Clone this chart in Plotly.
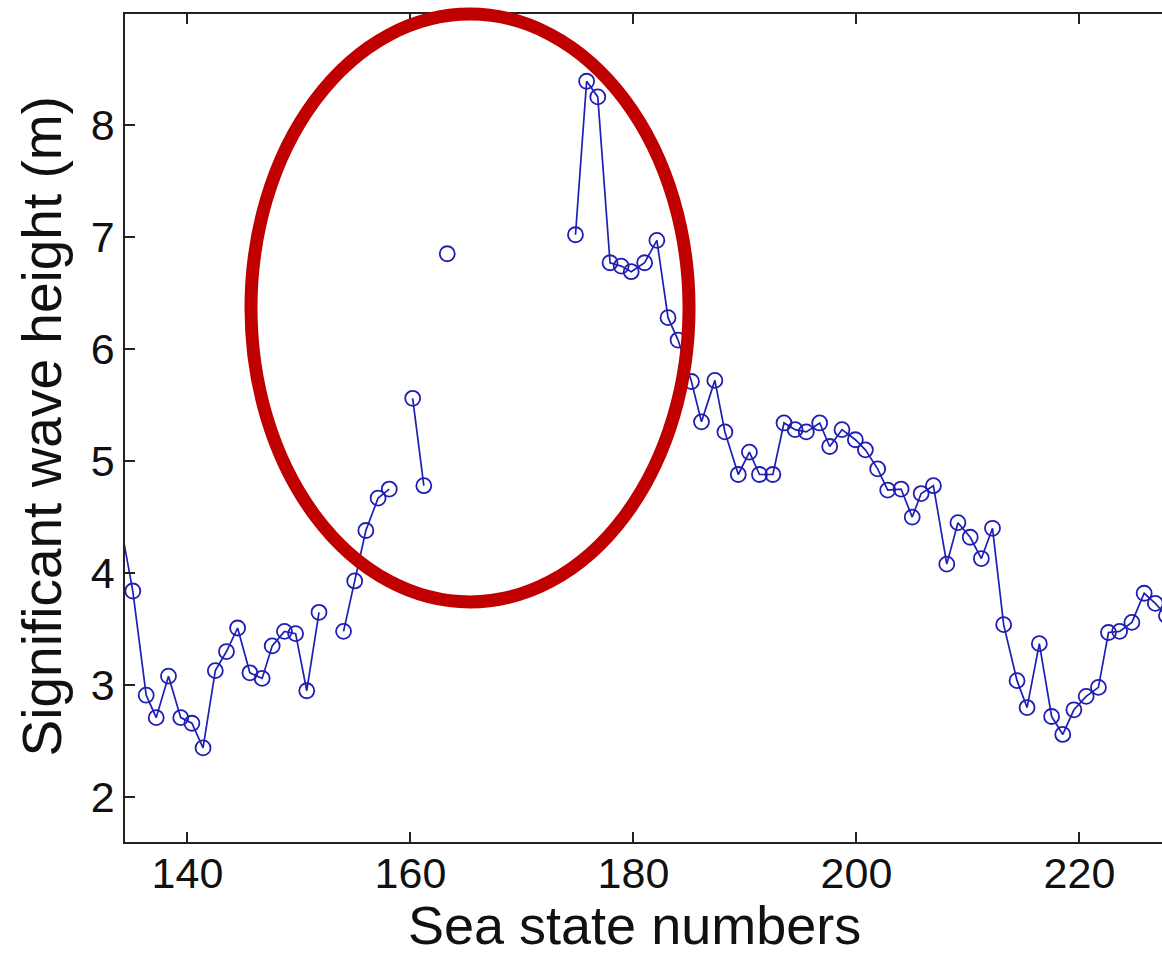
import plotly.graph_objects as go

# Sea state positions and significant wave heights
sea_state = [133.5, 135.1, 136.3, 137.2, 138.3, 139.4, 140.4, 141.4, 142.5, 143.5,
             144.5, 145.6, 146.7, 147.6, 148.7, 149.7, 150.7, 151.8, 152.9, 154.0,
             155.0, 156.0, 157.1, 158.1, 159.1, 160.2, 161.2, 162.2, 163.3, 169.0,
             174.8, 175.8, 176.8, 177.9, 178.9, 179.8, 181.0, 182.1, 183.1, 184.0,
             185.2, 186.1, 187.3, 188.2, 189.4, 190.4, 191.3, 192.5, 193.5, 194.5,
             195.5, 196.7, 197.6, 198.7, 199.9, 200.8, 201.9, 202.8, 204.0, 205.0,
             205.8, 206.9, 208.1, 209.1, 210.2, 211.2, 212.2, 213.2, 214.4, 215.3,
             216.4, 217.5, 218.5, 219.5, 220.6, 221.7, 222.6, 223.6, 224.7, 225.8,
             226.8, 227.8]
wave_height = [4.71, 3.84, 2.91, 2.71, 3.08, 2.71, 2.66, 2.44, 3.13, 3.30,
               3.51, 3.11, 3.06, 3.35, 3.48, 3.46, 2.95, 3.65, None, 3.48,
               3.93, 4.38, 4.67, 4.75, None, 5.56, 4.78, None, 6.85, None,
               7.02, 8.39, 8.25, 6.77, 6.74, 6.69, 6.77, 6.97, 6.28, 6.08,
               5.71, 5.35, 5.72, 5.26, 4.88, 5.08, 4.88, 4.88, 5.34, 5.28,
               5.26, 5.34, 5.13, 5.28, 5.19, 5.10, 4.93, 4.74, 4.75, 4.50,
               4.71, 4.78, 4.08, 4.45, 4.32, 4.13, 4.40, 3.54, 3.04, 2.80,
               3.37, 2.72, 2.56, 2.78, 2.90, 2.98, 3.47, 3.48, 3.56, 3.82,
               3.73, 3.62]

x_ticks = [140, 160, 180, 200, 220]
y_ticks = [2, 3, 4, 5, 6, 7, 8]
x_title = "Sea state numbers"
y_title = "Significant wave height (m)"

FONT = "Arial, 'Liberation Sans', Helvetica, sans-serif"
BLUE = "#1E1EB4"

fig = go.Figure()
fig.add_trace(go.Scatter(
    x=sea_state, y=wave_height, mode="lines+markers", connectgaps=False,
    line=dict(color=BLUE, width=1.7),
    marker=dict(symbol="circle-open", size=15, color=BLUE, line=dict(width=1.8, color=BLUE)),
    showlegend=False,
))

axis_common = dict(
    showgrid=False, zeroline=False, ticks="inside", ticklen=10, tickwidth=1.5,
    tickcolor="#222", showline=True, linecolor="#222", linewidth=1.5,
    tickfont=dict(family=FONT, size=43, color="#111"),
)
fig.update_xaxes(range=[134.4, 227.4], tickvals=x_ticks, mirror="ticks",
                 ticklabelstandoff=-7, **axis_common)
fig.update_yaxes(range=[1.6, 8.99], tickvals=y_ticks, mirror=False, **axis_common)

# annotation ellipse (red)
fig.add_shape(type="circle", xref="paper", yref="paper",
              x0=0.1215, x1=0.5439, y0=0.2899, y1=1.0,
              line=dict(color="#C00000", width=13), layer="above")

fig.add_annotation(text=x_title, xref="paper", yref="paper", x=0.4918, y=-0.062,
                   xanchor="center", yanchor="top", showarrow=False,
                   font=dict(family=FONT, size=54, color="#111"))
fig.add_annotation(text=y_title, xref="paper", yref="paper", x=-0.080, y=0.502,
                   xanchor="center", yanchor="middle", textangle=-90, showarrow=False,
                   font=dict(family=FONT, size=55, color="#111"))

fig.update_layout(
    width=1162, height=956,
    margin=dict(l=125, r=0, t=14, b=114),
    plot_bgcolor="white", paper_bgcolor="white",
)
fig.write_html("out.html")
